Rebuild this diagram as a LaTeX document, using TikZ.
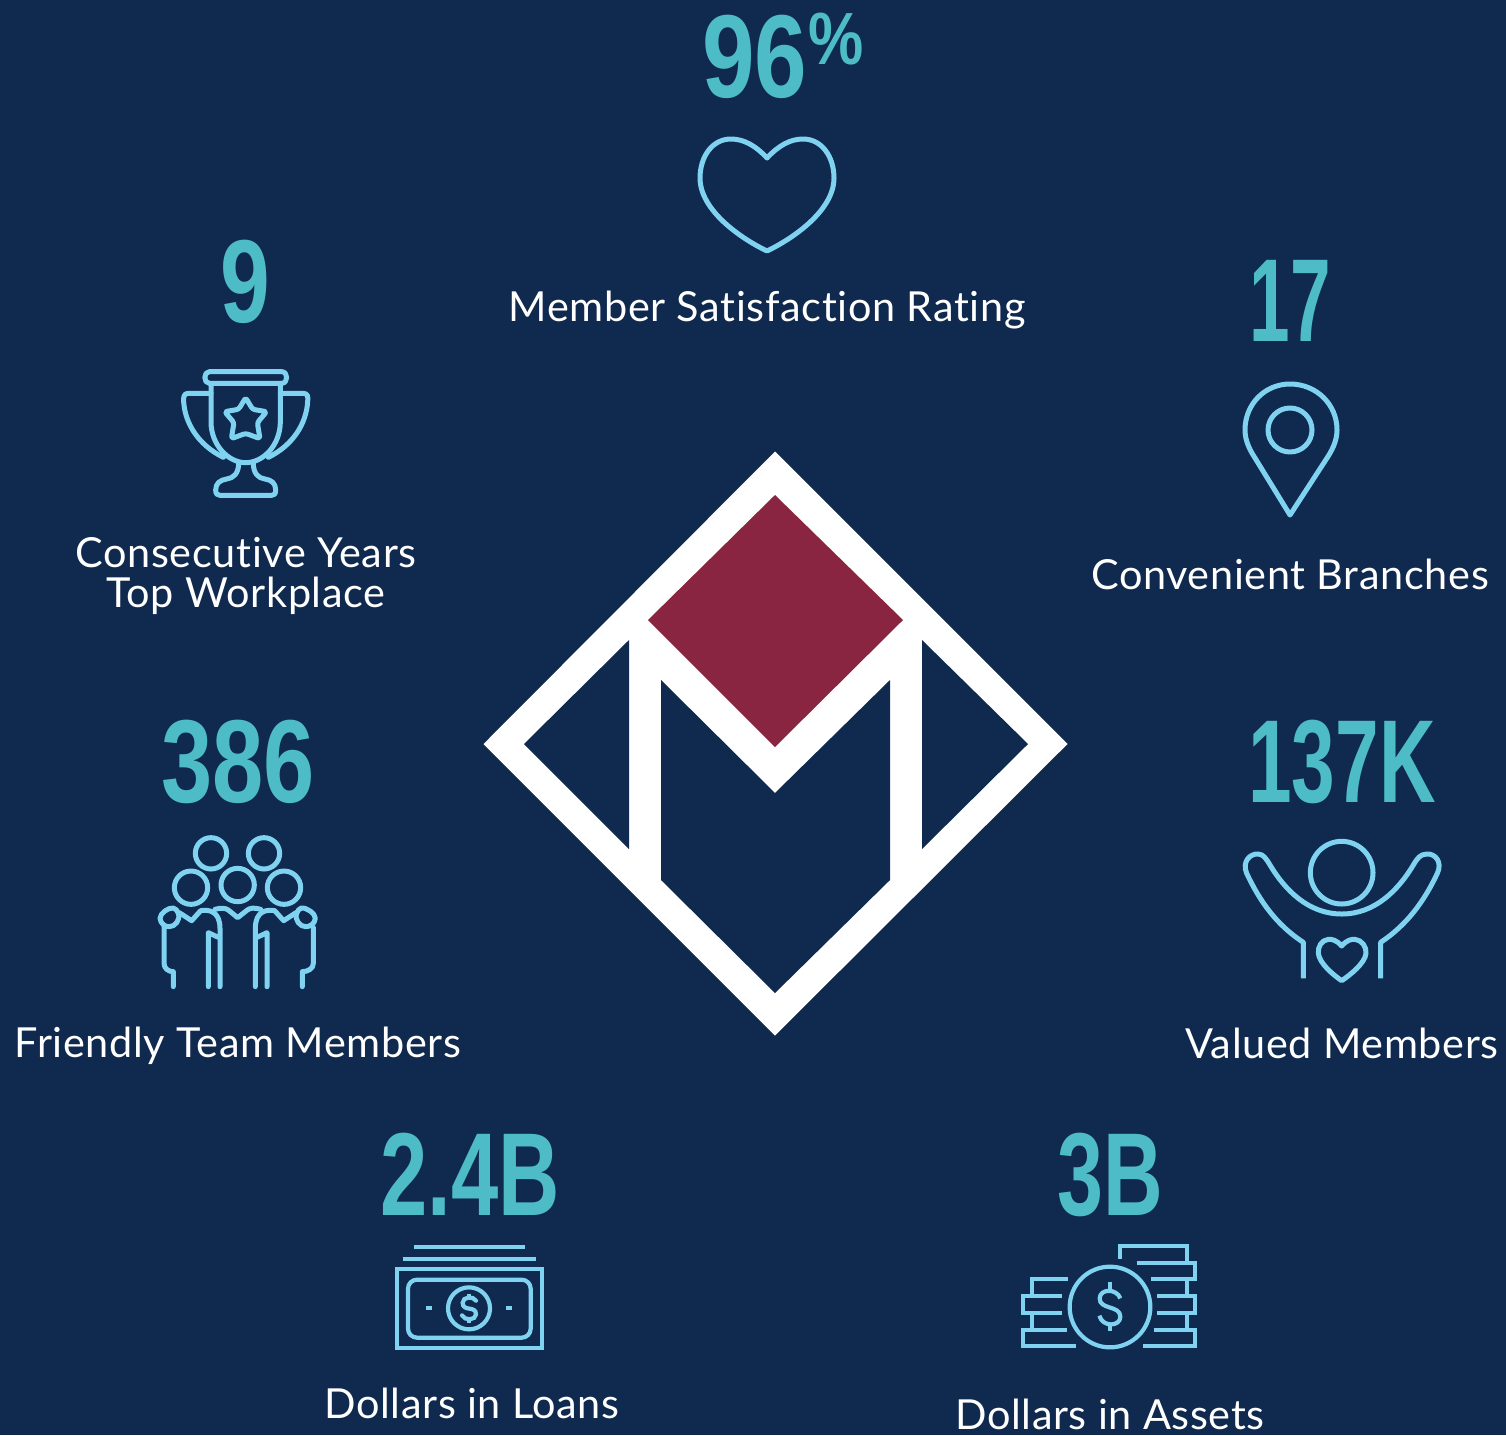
\documentclass[tikz,border=0pt]{standalone}
\usepackage{graphicx}
\usepackage{fontspec}
\setmainfont[Ligatures=NoCommon,LetterSpace=1.6]{Lato}
\newfontfamily\numfont{Liberation Sans Bold}
\definecolor{bgnavy}{HTML}{10294F}
\definecolor{numteal}{HTML}{4DBCC6}
\definecolor{iconblue}{HTML}{7FD3F1}
\definecolor{logored}{HTML}{8A2541}
\newcommand{\numtxt}[2]{\scalebox{#1}[1]{#2}}
\tikzset{
  num/.style={text=numteal,font=\fontsize{118}{118}\numfont,inner sep=0pt,anchor=base},
  lab/.style={text=white,font=\fontsize{41.4}{41.4}\selectfont,inner sep=0pt,anchor=base,align=center},
  icon/.style={draw=iconblue,line width=5pt,line join=round,line cap=round},
  thinicon/.style={draw=iconblue,line width=4.2pt,line join=miter,line cap=butt},
  iconz/.style={shift={(#1)},scale=1/3},
}
\begin{document}
\begin{tikzpicture}[x=1pt,y=-1pt]
\useasboundingbox (0,0) rectangle (1506,1435);
\fill[bgnavy] (0,0) rectangle (1506,1435);
% logo
\fill[white] (775,451.5) -- (1067.5,744) -- (775,1035.5) -- (483.5,744) -- cycle;
\fill[bgnavy] (629,640) -- (524,744) -- (629,849) -- cycle;
\fill[bgnavy] (922,640) -- (1028,744) -- (922,849) -- cycle;
\fill[bgnavy] (661,680) -- (775,793) -- (890,680) -- (890,880) -- (775,993) -- (661,880) -- cycle;
\fill[logored] (775,495) -- (903,620) -- (775,747) -- (648,620) -- cycle;
% numbers
\node[num] (n96) at (755,97) {\numtxt{.80}{96}};
\node[num,font=\fontsize{74}{74}\numfont] (npc) at (836,64) {\numtxt{.84}{\%}};
\node[num] (n9) at (245,322) {\numtxt{.757}{9}};
\node[num] (n17) at (1290,341) {\numtxt{.618}{17}};
\node[num] (n386) at (238,802) {\numtxt{.78}{386}};
\node[num] (n137) at (1342,802) {\numtxt{.664}{137K}};
\node[num] (n24) at (470,1215) {\numtxt{.72}{2.4B}};
\node[num] (n3) at (1110,1215) {\numtxt{.70}{3B}};
% labels
\node[lab] (l1) at (767,321) {Member Satisfaction Rating};
\node[lab] (l2a) at (246,567) {Consecutive Years};
\node[lab] (l2b) at (246,607) {Top Workplace};
\node[lab] (l3) at (1290,589) {Convenient Branches};
\node[lab] (l4) at (238,1057) {Friendly Team Members};
\node[lab] (l5) at (1342,1058) {Valued Members};
\node[lab] (l6) at (472,1418) {Dollars in Loans};
\node[lab] (l7) at (1110,1429) {Dollars in Assets};
% heart
\draw[icon] (767,158) .. controls (756,146) and (744,139) .. (731,139)
  .. controls (712,139) and (700,157) .. (700,178)
  .. controls (700,210) and (740,238) .. (767,251)
  .. controls (794,238) and (834,210) .. (834,178)
  .. controls (834,157) and (822,139) .. (803,139)
  .. controls (790,139) and (778,146) .. (767,158) -- cycle;
% trophy
\begin{scope}[iconz={140,350}]
\draw[icon] (208,65) -- (425,65) .. controls (445,65) and (445,100) .. (425,100) -- (208,100) .. controls (190,100) and (190,65) .. (208,65) -- cycle;
\draw[icon] (213,100) -- (213,215) .. controls (213,285) and (265,338) .. (317,338) .. controls (370,338) and (421,285) .. (421,215) -- (421,100);
\draw[icon] (213,130) -- (145,130) .. controls (132,130) and (130,140) .. (131,155) .. controls (135,220) and (175,285) .. (250,322);
\draw[icon] (421,130) -- (490,130) .. controls (503,130) and (505,140) .. (503,155) .. controls (499,220) and (460,285) .. (385,322);
\draw[icon] (296,340) .. controls (296,370) and (280,385) .. (260,387) .. controls (240,390) and (227,400) .. (227,420) .. controls (227,432) and (232,436) .. (240,436) -- (395,436) .. controls (403,436) and (407,432) .. (407,420) .. controls (407,400) and (395,390) .. (375,387) .. controls (355,385) and (340,370) .. (340,340);
\draw[icon,rounded corners=2.5pt] (317,143) -- (338,178) -- (380,185) -- (352,218) -- (360,266) -- (317,250) -- (274,266) -- (282,218) -- (254,185) -- (296,178) -- cycle;
\end{scope}
% pin
\draw[icon] (1290,515) -- (1327,458) .. controls (1335,446) and (1337,437) .. (1337,430) .. controls (1337,404) and (1316,384) .. (1290,384) .. controls (1265,384) and (1245,404) .. (1245,430) .. controls (1245,437) and (1247,446) .. (1255,458) -- cycle;
\draw[icon] (1290,430) circle[radius=22];
% team
\begin{scope}[iconz={140,820}]
\draw[icon] (213,100) circle[radius=47];
\draw[icon] (372,100) circle[radius=47];
\draw[icon] (153,203) circle[radius=50];
\draw[icon] (293,195) circle[radius=50];
\draw[icon] (432,203) circle[radius=50];
\draw[icon] (100,264) .. controls (85,262) and (60,280) .. (60,295) .. controls (62,312) and (75,320) .. (88,320) .. controls (105,320) and (122,300) .. (115,280) .. controls (112,272) and (108,266) .. (100,264) -- cycle;
\draw[icon] (484,264) .. controls (499,262) and (526,280) .. (526,295) .. controls (524,312) and (510,320) .. (497,320) .. controls (480,320) and (463,300) .. (470,280) .. controls (473,272) and (477,266) .. (484,264) -- cycle;
\draw[icon] (118,278) -- (155,302) -- (182,272) .. controls (205,268) and (240,272) .. (240,325) -- (240,500);
\draw[icon] (225,268) .. controls (245,262) and (258,265) .. (265,270) -- (293,293) -- (322,270) .. controls (330,264) and (342,262) .. (362,268);
\draw[icon] (468,278) -- (431,302) -- (404,272) .. controls (380,268) and (346,272) .. (346,325) -- (346,500);
\draw[icon] (72,322) -- (72,430) .. controls (72,445) and (85,455) .. (100,455) -- (100,500);
\draw[icon] (520,322) -- (520,430) .. controls (520,445) and (505,455) .. (487,455) -- (487,500);
\draw[icon] (205,500) -- (205,338) -- (235,352);
\draw[icon] (381,500) -- (381,338) -- (351,352);
\end{scope}
% members
\begin{scope}[iconz={1220,825}]
\draw[icon] (365,143) circle[radius=94];
\draw[icon,line cap=butt] (250,460) -- (250,352) .. controls (170,300) and (120,230) .. (80,145) .. controls (65,110) and (90,85) .. (115,87) .. controls (130,88) and (138,100) .. (150,120) .. controls (195,195) and (265,267) .. (365,267) .. controls (465,267) and (535,195) .. (580,120) .. controls (592,100) and (600,88) .. (620,87) .. controls (645,85) and (668,110) .. (652,145) .. controls (612,230) and (560,300) .. (482,352) -- (482,460);
\draw[icon] (365,363) .. controls (350,345) and (335,342) .. (325,343) .. controls (305,345) and (293,365) .. (295,385) .. controls (298,415) and (340,450) .. (365,467) .. controls (390,450) and (435,415) .. (438,385) .. controls (440,365) and (425,345) .. (405,343) .. controls (395,342) and (380,345) .. (365,363) -- cycle;
\end{scope}
% loans
\begin{scope}[iconz={380,1235}]
\draw[thinicon] (102,37) -- (434,37);
\draw[thinicon] (68,71) -- (467,71);
\draw[thinicon] (50,103) rectangle (485,340);
\draw[thinicon,rounded corners=9pt] (84,134) rectangle (452,308);
\draw[thinicon] (267,220) circle[radius=63];
\draw[thinicon] (139,220) -- (156,220);
\draw[thinicon] (379,220) -- (396,220);
\draw[thinicon,line cap=round] (288,197) .. controls (280,182) and (248,185) .. (248,203) .. controls (248,232) and (288,210) .. (288,238) .. controls (288,256) and (254,258) .. (246,241);
\draw[thinicon] (267,176) -- (267,188) (267,252) -- (267,264);
\end{scope}
% assets
\begin{scope}[iconz={1010,1235}]
\draw[thinicon] (331,72) -- (331,34) -- (530,34) -- (530,84);
\draw[thinicon] (380,84) -- (556,84) -- (556,133) -- (424,133);
\draw[thinicon] (530,133) -- (530,184);
\draw[thinicon] (442,184) -- (556,184) -- (556,234) -- (442,234);
\draw[thinicon] (530,234) -- (530,284);
\draw[thinicon] (431,284) -- (556,284) -- (556,334) -- (398,334);
\draw[thinicon] (175,133) -- (66,133) -- (66,184);
\draw[thinicon] (156,184) -- (40,184) -- (40,234) -- (156,234);
\draw[thinicon] (66,234) -- (66,284);
\draw[thinicon] (171,284) -- (40,284) -- (40,334) -- (199,334);
\draw[thinicon] (300,216) circle[radius=121];
\draw[thinicon] (331,190) .. controls (320,160) and (270,160) .. (269,190) .. controls (268,225) and (331,210) .. (331,245) .. controls (331,275) and (278,278) .. (268,242);
\draw[thinicon] (300,142) -- (300,165) (300,268) -- (300,288);
\end{scope}
\end{tikzpicture}
\end{document}
